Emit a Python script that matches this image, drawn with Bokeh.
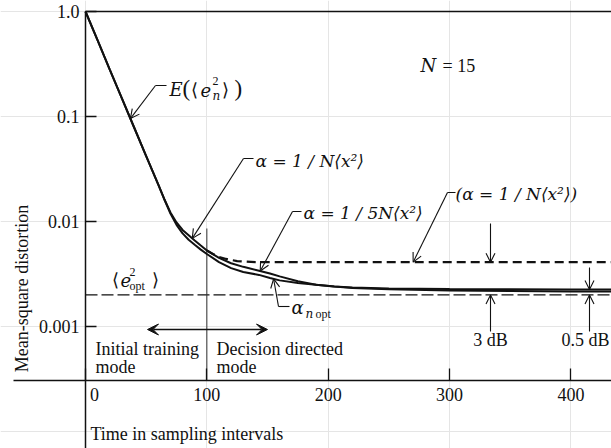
import math
import numpy as np
from bokeh.plotting import figure
from bokeh.models import (Range1d, LinearAxis, LogAxis, FixedTicker, CustomJSTickFormatter,
                          Label, Arrow, OpenHead, VeeHead)
from bokeh.embed import file_html
from bokeh.resources import INLINE

# ---------------- data ----------------
time_x = [0, 10, 20, 30, 40, 50, 60, 65, 70, 75, 80, 85, 90, 95, 100, 110, 120, 130,
          143, 152, 160, 175, 190, 205, 220, 250, 300, 350, 400, 440]
mse_alpha_5N = [1.0, 0.53, 0.28, 0.149, 0.079, 0.042, 0.0225, 0.0163, 0.0122, 0.0098, 0.0083,
                0.0074, 0.0066, 0.0059, 0.0053, 0.0045, 0.0040, 0.0037, 0.0034, 0.0032, 0.0030,
                0.0027, 0.0025, 0.0024, 0.00235, 0.0023, 0.00227, 0.00226, 0.00225, 0.00225]
mse_alpha_opt = [1.0, 0.53, 0.28, 0.149, 0.079, 0.042, 0.0225, 0.0162, 0.0119, 0.0093, 0.0077,
                 0.0067, 0.0060, 0.0054, 0.0049, 0.0041, 0.0036, 0.0033, 0.0031, 0.0029, 0.00275,
                 0.0026, 0.0025, 0.0024, 0.00233, 0.00226, 0.0022, 0.00218, 0.00216, 0.00215]
dd_x = [100, 105, 110, 116, 125, 140, 200, 300, 440]
mse_alpha_N_dd = [0.0053, 0.0049, 0.0046, 0.0044, 0.0042, 0.0041, 0.0041, 0.0041, 0.0041]
e_opt = 0.002
switch_time = 100
x_ticks = [0, 100, 200, 300, 400]
y_ticks = [1.0, 0.1, 0.01, 0.001]

# ------------- layout helpers (page pixel -> data) -------------
X0_PX, PX_PER_UNIT = 85.0, 1.2135
Y1_PX, PX_PER_DEC = 11.0, 105.0
def dx(px):
    return (px - X0_PX) / PX_PER_UNIT
def dy(py):
    return 10 ** (-(py - Y1_PX) / PX_PER_DEC)
def on(xs, ys, x):
    return float(10 ** np.interp(x, xs, np.log10(ys)))

FONT = "Liberation Serif"
IFONT = "'DejaVu Serif', 'Liberation Serif', serif"
INK = "#111111"

p = figure(width=611, height=448, x_range=Range1d(dx(0), dx(611)),
           y_range=Range1d(dy(448), dy(0)), y_axis_type="log",
           x_axis_location=None, y_axis_location=None, toolbar_location=None,
           output_backend="svg", min_border=0, outline_line_color=None,
           background_fill_color="white", border_fill_color="white")

# axes
ya = LogAxis(fixed_location=0, bounds=(dy(448), 1.0), ticker=FixedTicker(ticks=y_ticks),
             formatter=CustomJSTickFormatter(code="return tick >= 1 ? tick.toFixed(1) : String(tick);"),
             major_tick_in=11, major_tick_out=0, minor_tick_in=0, minor_tick_out=0,
             axis_line_width=1.5, axis_line_color=INK, major_tick_line_width=1.5,
             major_tick_line_color=INK, major_label_text_font=FONT,
             major_label_text_font_size="18px", major_label_text_color=INK,
             major_label_standoff=6)
p.add_layout(ya, "left")
xa = LinearAxis(fixed_location=dy(380), bounds=(dx(13), dx(611)), ticker=FixedTicker(ticks=x_ticks),
                formatter=CustomJSTickFormatter(code="return tick == 0 ? '\\u2003' + '0' : String(tick);"),
                major_tick_in=12, major_tick_out=0, minor_tick_in=0, minor_tick_out=0,
                axis_line_width=1.5, axis_line_color=INK, major_tick_line_width=1.3,
                major_tick_line_color=INK, major_label_text_font=FONT,
                major_label_text_font_size="18px", major_label_text_color=INK,
                major_label_standoff=4)
p.add_layout(xa, "below")

# top frame line
p.segment(x0=[0], y0=[1.0], x1=[dx(611)], y1=[1.0], line_color=INK, line_width=1.5)

# optimum level and mode switch line
p.segment(x0=[0], y0=[e_opt], x1=[dx(611)], y1=[e_opt], line_color=INK, line_width=1.2,
          line_dash="12 4")
p.segment(x0=[switch_time], y0=[dy(228)], x1=[switch_time], y1=[dy(380)], line_color="#333333",
          line_width=1)

# curves
p.line(time_x, mse_alpha_5N, line_color=INK, line_width=2)
p.line(time_x, mse_alpha_opt, line_color=INK, line_width=2)
p.line(dd_x, mse_alpha_N_dd, line_color=INK, line_width=2.2, line_dash="9 5")

def lab(text, px, py, size=18, style="normal", align="left", baseline="middle", angle=0.0):
    font = IFONT if style == "italic" else FONT
    p.add_layout(Label(x=dx(px), y=dy(py), text=text, text_font=font,
                       text_font_size=f"{size}px", text_font_style=style,
                       text_align=align, text_baseline=baseline, angle=angle,
                       text_color=INK))

def arrow(x0, y0, x1, y1, head=9):
    p.add_layout(Arrow(end=OpenHead(size=head, line_width=1.1, line_color=INK),
                       x_start=x0, y_start=y0, x_end=x1, y_end=y1,
                       line_width=1.1, line_color=INK))

def seg(px0, py0, px1, py1):
    p.segment(x0=[dx(px0)], y0=[dy(py0)], x1=[dx(px1)], y1=[dy(py1)], line_color=INK, line_width=1.1)

# E{<e_n^2>} label
seg(155, 85, 166, 85)
arrow(dx(155), dy(85), 37, on(time_x, mse_alpha_5N, 37))
lab("E", 169, 89, style="italic")
lab("(", 182, 88, size=23)
lab("⟨", 190, 89)
lab("e", 200, 89, style="italic")
lab("2", 212, 80, size=12)
lab("n", 212, 95, size=12, style="italic")
lab("⟩", 221, 89)
lab(")", 234, 88, size=23)

# alpha = 1/N <x^2>
seg(243, 158, 253, 158)
arrow(dx(243), dy(158), 88, on(time_x, mse_alpha_5N, 88))
lab("α = 1 / N⟨x²⟩", 255, 160, size=17, style="italic")

# alpha = 1/5N <x^2>
seg(292, 211, 301, 211)
arrow(dx(292), dy(211), 144, on(time_x, mse_alpha_5N, 144))
lab("α = 1 / 5N⟨x²⟩", 303, 212, size=17, style="italic")

# (alpha = 1/N <x^2>) decision directed
seg(447, 192, 455, 192)
arrow(dx(447), dy(192), 270, on(dd_x, mse_alpha_N_dd, 270))
lab("(α = 1 / N⟨x²⟩)", 455, 193, size=17, style="italic")

# N = 15
lab("N", 420, 65, style="italic")
lab("= 15", 442, 65)

# <e_opt^2>
lab("⟨", 111, 279)
lab("e", 120, 279, style="italic")
lab("2", 129, 271, size=12)
lab("opt", 129, 285, size=12)
lab("⟩", 151, 279)

# alpha_n opt
arrow(dx(278), dy(306), 155, on(time_x, mse_alpha_opt, 155))
seg(278, 306, 289, 306)
lab("α", 291, 307, style="italic")
lab("n", 305, 313, size=12, style="italic")
lab("opt", 315, 313, size=12)

# 3 dB markers
x3 = dx(490)
arrow(x3, dy(223), x3, on(dd_x, mse_alpha_N_dd, x3))
arrow(x3, dy(331), x3, e_opt)
lab("3 dB", 490, 339, align="center")

# 0.5 dB markers
x05 = dx(589)
arrow(x05, dy(267), x05, on(time_x, mse_alpha_5N, x05))
arrow(x05, dy(331), x05, e_opt)
lab("0.5 dB", 609, 339, align="right")

# modes
p.add_layout(Arrow(start=VeeHead(size=11, fill_color=INK, line_color=INK),
                   end=VeeHead(size=11, fill_color=INK, line_color=INK),
                   x_start=dx(147), y_start=dy(329), x_end=dx(267), y_end=dy(329),
                   line_width=1.3, line_color=INK))
lab("Initial training", 95, 348)
lab("mode", 95, 366)
lab("Decision directed", 216, 348)
lab("mode", 216, 366)

# axis titles
lab("Time in sampling intervals", 90, 433)
lab("Mean-square distortion", 21, 288, align="center", angle=math.pi / 2)

open("out.html", "w").write(file_html(p, INLINE))
